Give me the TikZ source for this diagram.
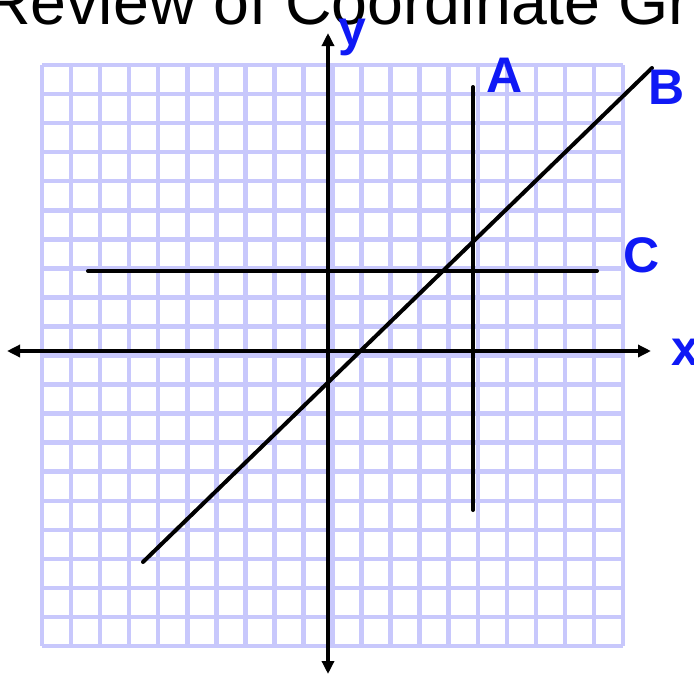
\documentclass[tikz,border=0pt]{standalone}
\usepackage{fontspec}
\usepackage{xcolor}
\usepackage{tikz}
\usetikzlibrary{arrows.meta, positioning, calc}
\setmainfont{Liberation Sans}
\definecolor{gridlilac}{RGB}{200,200,252}
\definecolor{inkblue}{RGB}{15,25,245}

\begin{document}
\begin{tikzpicture}[x=1pt, y=-1pt,
      gridline/.style={draw=gridlilac, line width=4.5pt},
      axis/.style={black, line width=4pt,
                   {Triangle[length=13pt,width=12pt]}-{Triangle[length=13pt,width=12pt]}},
      graph/.style={black, line width=4pt, line cap=round},
      lbl/.style={text=inkblue, font=\fontsize{50}{50}\selectfont\bfseries,
                  inner sep=0pt, anchor=base},
      >=Stealth]
    \useasboundingbox (0,0) rectangle (694,675);
    \clip (0,0) rectangle (694,675);
    % grid 20 x 20
    \foreach \i in {0,...,20} {
      \draw[gridline] ({42+29.05*\i},65) -- ({42+29.05*\i},646);
      \draw[gridline] (42,{65+29.05*\i}) -- (623,{65+29.05*\i});
    }
    \node[anchor=base west, inner sep=0pt, font=\fontsize{64.5}{70}\selectfont]
      (title) at (-16,24) {Review of Coordinate Gr};
    % axes
    \coordinate (xl) at (7,351);
    \coordinate (xr) at (651,351);
    \coordinate (yt) at (328,33);
    \coordinate (yb) at (328,674);
    \draw[axis] (xl) -- (xr);
    \draw[axis] (yb) -- (yt);
    % lines A, B, C
    \coordinate (A1) at (473,87);
    \coordinate (A2) at (473,510);
    \coordinate (B1) at (143,562);
    \coordinate (B2) at (652,68);
    \coordinate (C1) at (88,271);
    \coordinate (C2) at (597,271);
    \draw[graph] (A1) -- (A2);
    \draw[graph] (B1) -- (B2);
    \draw[graph] (C1) -- (C2);
    \node[lbl] (ly) at (352,45) {y};
    \node[lbl] (lA) at (505,92) {A};
    \node[lbl, anchor=base west] (lB) at (648,104) {B};
    \node[lbl] (lC) at (642,272) {C};
    \node[lbl, anchor=base west] (lx) at (671,365) {x};
  \end{tikzpicture}
\end{document}
